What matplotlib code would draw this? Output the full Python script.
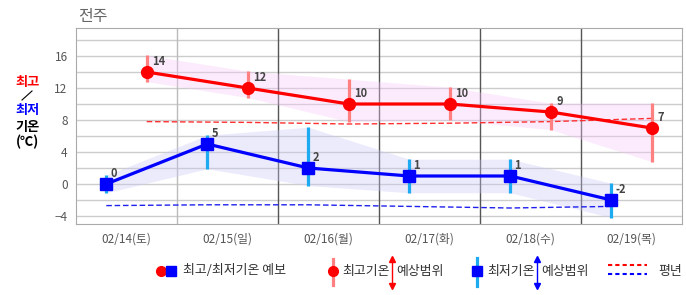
import numpy as np
import matplotlib.pyplot as plt
from matplotlib.lines import Line2D

plt.rcParams['font.family'] = ['Noto Sans CJK KR', 'DejaVu Sans']

# data
days = ['02/14(토)', '02/15(일)', '02/16(월)', '02/17(화)', '02/18(수)', '02/19(목)']
tmax = [14, 12, 10, 10, 9, 7]
tmax_hi = [16.1, 14.1, 13.1, 12.1, 10.1, 10.1]
tmax_lo = [12.8, 10.8, 7.8, 8.0, 6.8, 2.8]
tmin = [0, 5, 2, 1, 1, -2]
tmin_hi = [1.1, 6.1, 7.1, 3.1, 3.1, 0.1]
tmin_lo = [-1.1, 1.9, -0.2, -1.1, -1.1, -4.2]
norm_max = [7.8, 7.7, 7.5, 7.6, 7.8, 8.2]
norm_min = [-2.7, -2.6, -2.6, -2.8, -3.0, -2.8]

x = np.arange(len(days))
xmax = x + 0.2
xmin = x - 0.2

fig = plt.figure(figsize=(6.86, 2.95), dpi=100)
ax = fig.add_axes([76/686, 1 - 224/295, 606/686, 196/295])

# grid
ax.set_xlim(-0.5, 5.5)
ax.set_ylim(-5, 19.5)
for yv in np.arange(-4, 19, 2):
    ax.axhline(yv, color='#cccccc', lw=1, zorder=0)
for i, xv in enumerate(np.arange(0.5, 5.5, 1)):
    ax.axvline(xv, color='#bbbbbb' if i == 0 else '#555555', lw=1, zorder=0)

# bands (see-through, grid shows)
ax.fill_between(xmax, tmax_lo, tmax_hi, color='#f8c8f8', alpha=0.35, zorder=1, lw=0)
ax.fill_between(xmin, tmin_lo, tmin_hi, color='#c8c8f8', alpha=0.35, zorder=1, lw=0)

# normals
ax.plot(xmax, norm_max, color='#ff3030', ls=(0, (4, 2)), lw=1, zorder=2)
ax.plot(xmin, norm_min, color='#2020ee', ls=(0, (4, 2)), lw=1, zorder=2)

# range bars
ax.vlines(xmax, tmax_lo, tmax_hi, color='#ff8080', lw=2.3, zorder=3)
ax.vlines(xmin, tmin_lo, tmin_hi, color='#1eaaf1', lw=2.3, zorder=3)

# forecast lines
ax.plot(xmax, tmax, color='red', lw=2.3, marker='o', ms=8.5, zorder=4)
ax.plot(xmin, tmin, color='blue', lw=2.3, marker='s', ms=8, zorder=4)

for xi, v in zip(xmax, tmax):
    ax.annotate(str(v), (xi, v), xytext=(4, 3), textcoords='offset points',
                ha='left', va='bottom', fontsize=8, fontweight='bold', color='#444444', zorder=5)
for xi, v in zip(xmin, tmin):
    ax.annotate(str(v), (xi, v), xytext=(3, 3), textcoords='offset points',
                ha='left', va='bottom', fontsize=8, fontweight='bold', color='#444444', zorder=5)

ax.set_yticks(np.arange(-4, 17, 4))
ax.set_yticklabels(['−4', '0', '4', '8', '12', '16'])
ax.set_xticks(x)
ax.set_xticklabels(days)
ax.tick_params(length=0, labelsize=8.5, labelcolor='#555555')
ax.tick_params(axis='y', pad=6)
ax.tick_params(axis='x', pad=6)
for s in ax.spines.values():
    s.set_color('#aaaaaa')

fig.text(78/686, 1 - 16/295, '전주', fontsize=11.5, color='#666666', va='center', ha='left')

# left axis label
lx = 28/686
fig.text(lx, 1 - 82/295, '최고', color='red', fontsize=9.5, fontweight='bold', ha='center', va='center')
fig.add_artist(Line2D([22/686, 32/686], [1 - 100/295, 1 - 91/295], color='black', lw=0.8))
fig.text(lx, 1 - 110/295, '최저', color='blue', fontsize=9.5, fontweight='bold', ha='center', va='center')
fig.text(lx, 1 - 127/295, '기온', color='black', fontsize=9.5, fontweight='bold', ha='center', va='center')
fig.text(lx, 1 - 142/295, '(℃)', color='black', fontsize=9.5, fontweight='bold', ha='center', va='center')

# legend
ly = 1 - 271/295


def fx(px):
    return px / 686


def fy(py):
    return 1 - py / 295


fs = 9.3
fig.add_artist(Line2D([fx(161)], [ly], marker='o', color='red', ms=7, lw=0))
fig.add_artist(Line2D([fx(171)], [ly], marker='s', color='blue', ms=6.5, lw=0))
fig.text(fx(183), ly, '최고/최저기온 예보', fontsize=fs, color='#333333', va='center')

fig.add_artist(Line2D([fx(333), fx(333)], [fy(259), fy(285)], color='#ff8080', lw=2.3))
fig.add_artist(Line2D([fx(333)], [ly], marker='o', color='red', ms=7, lw=0))
fig.text(fx(342), ly, '최고기온', fontsize=fs, color='#333333', va='center')
fig.add_artist(Line2D([fx(392), fx(392)], [fy(260), fy(285)], color='red', lw=1))
fig.add_artist(Line2D([fx(392)], [fy(259)], marker='^', color='red', ms=4, lw=0))
fig.add_artist(Line2D([fx(392)], [fy(286)], marker='v', color='red', ms=4, lw=0))
fig.text(fx(396), ly, '예상범위', fontsize=fs, color='#333333', va='center')

fig.add_artist(Line2D([fx(477), fx(477)], [fy(258), fy(286)], color='#1eaaf1', lw=2.3))
fig.add_artist(Line2D([fx(477)], [ly], marker='s', color='blue', ms=6.5, lw=0))
fig.text(fx(487), ly, '최저기온', fontsize=fs, color='#333333', va='center')
fig.add_artist(Line2D([fx(537), fx(537)], [fy(260), fy(285)], color='blue', lw=1))
fig.add_artist(Line2D([fx(537)], [fy(259)], marker='^', color='blue', ms=4, lw=0))
fig.add_artist(Line2D([fx(537)], [fy(286)], marker='v', color='blue', ms=4, lw=0))
fig.text(fx(541), ly, '예상범위', fontsize=fs, color='#333333', va='center')

fig.add_artist(Line2D([fx(608), fx(647)], [fy(265), fy(265)], color='red', lw=1.5, ls=(0, (2, 1.5))))
fig.add_artist(Line2D([fx(608), fx(647)], [fy(274), fy(274)], color='blue', lw=1.5, ls=(0, (2, 1.5))))
fig.text(fx(658), ly, '평년', fontsize=fs, color='#333333', va='center')

fig.savefig('out.png', dpi=100)
